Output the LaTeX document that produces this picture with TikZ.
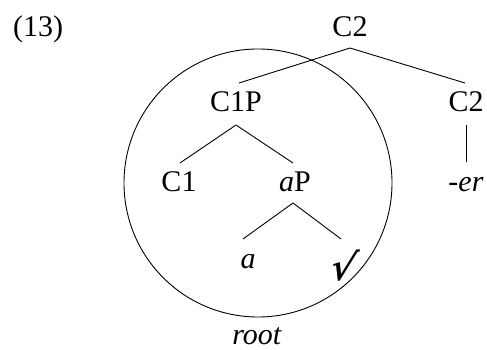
\documentclass[tikz,border=0pt]{standalone}
\usepackage{fontspec}
\setmainfont{Liberation Serif}
\newfontfamily\symfont{DejaVu Serif}
\begin{document}
\begin{tikzpicture}[x=1pt,y=1pt,
  lab/.style={anchor=base,inner sep=0pt,font=\fontsize{30}{34}\selectfont},
  edge/.style={line width=0.9pt}]
\useasboundingbox (0,0) rectangle (487,350);
% labels (y = 350 - image y)
\node[lab,anchor=base west] (num) at (13,313.5) {(13)};
\node[lab] (c2top) at (350,313.5) {C2};
\node[lab] (c1p) at (236,238.5) {C1P};
\node[lab] (c2r) at (466,238.5) {C2};
\node[lab] (c1) at (179,158.5) {C1};
\node[lab] (ap) at (295,158.5) {\textit{a}P};
\node[lab] (er) at (466,158.5) {\textit{-er}};
\node[lab] (a) at (248,81) {\textit{a}};
\node[lab,font=\symfont\bfseries\fontsize{37}{40}\selectfont,xslant=0.25] (rt) at (341,69) {√};
\node[lab] (root) at (257,5.5) {\textit{root}};
% circle
\draw[edge] (258,167) circle (134);
% connectors
\draw[edge] ([yshift=-11.5pt]c2top.base) -- ([xshift=3pt,yshift=28.5pt]c1p.base);
\draw[edge] ([yshift=-11.5pt]c2top.base) -- ([xshift=-1pt,yshift=28.5pt]c2r.base);
\draw[edge] ([yshift=-13.5pt]c1p.base) -- ([xshift=1pt,yshift=28.5pt]c1.base);
\draw[edge] ([yshift=-13.5pt]c1p.base) -- ([xshift=-2pt,yshift=28.5pt]ap.base);
\draw[edge] ([yshift=-13.5pt]c2r.base) -- ([yshift=29.5pt]er.base);
\draw[edge] ([xshift=-2pt,yshift=-11.5pt]ap.base) -- ([xshift=-5pt,yshift=30pt]a.base);
\draw[edge] ([xshift=-2pt,yshift=-11.5pt]ap.base) -- ([yshift=42pt]rt.base);
\end{tikzpicture}
\end{document}
